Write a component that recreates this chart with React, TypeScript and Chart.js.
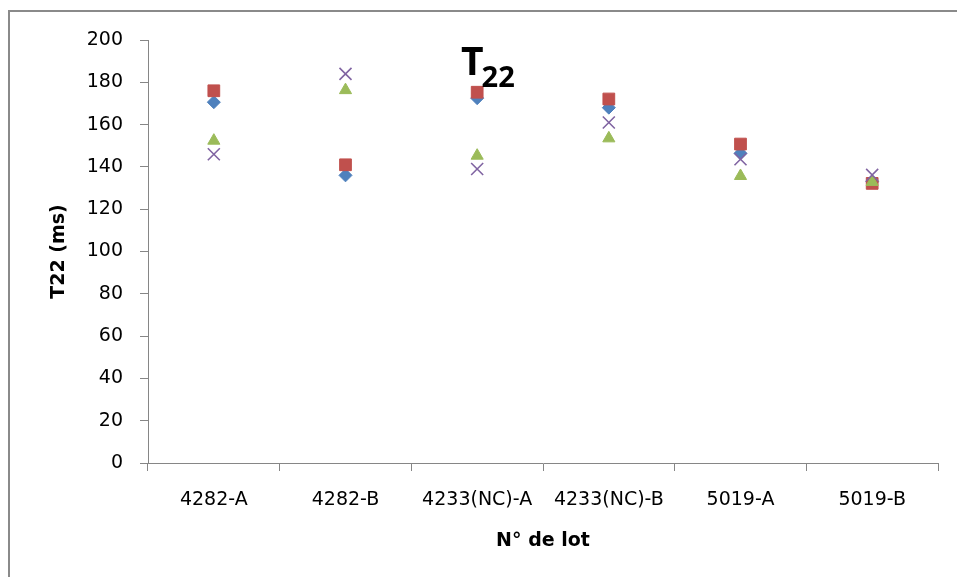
import React, { useEffect, useRef } from "react";
import { Chart, registerables } from "chart.js";

Chart.register(...registerables);

const categories = ["4282-A", "4282-B", "4233(NC)-A", "4233(NC)-B", "5019-A", "5019-B"];
const seriesBlue = [170.6, 136, 172.5, 168, 146.4, 133];
const seriesRed = [176, 141, 175.3, 172.1, 150.8, 132.2];
const seriesGreen = [152.4, 176.3, 145.3, 153.5, 135.7, 132.9];
const seriesPurple = [146, 184, 139, 161, 143.6, 136.2];
const yTicks = { min: 0, max: 200, step: 20 };
const titleMain = "T";
const titleSub = "22";
const yTitle = "T22 (ms)";
const xTitle = "N° de lot";

const AXIS = "#868686";
const FONT = "'DejaVu Sans', sans-serif";

const framePlugin = {
  id: "frame",
  beforeDraw(chart: any) {
    const ctx = chart.ctx;
    ctx.save();
    ctx.fillStyle = "#ffffff";
    ctx.fillRect(0, 0, chart.width, chart.height);
    ctx.fillStyle = "#8a8a8a";
    ctx.fillRect(8, 10, 2, chart.height - 10);
    ctx.fillRect(8, 10, chart.width - 8, 2);
    ctx.restore();
  },
  afterDraw(chart: any) {
    const ctx = chart.ctx;
    ctx.save();
    ctx.fillStyle = "#000000";
    ctx.textBaseline = "alphabetic";
    ctx.textAlign = "left";
    ctx.font = "bold 39px 'Open Sans', sans-serif";
    const x0 = 461;
    ctx.fillText(titleMain, x0, 75);
    const w = ctx.measureText(titleMain).width;
    ctx.font = "bold 29px 'Open Sans', sans-serif";
    ctx.fillText(titleSub, x0 + w - 2, 87);
    ctx.restore();
  },
};

export default function App() {
  const ref = useRef<HTMLCanvasElement | null>(null);
  useEffect(() => {
    document.body.style.margin = "0";
    const canvas = ref.current!;
    const mk = (label: string, data: number[], color: string, style: string, radius: number, order: number, bw: number) => ({
      label,
      data,
      showLine: false,
      pointStyle: style,
      pointRadius: radius,
      pointHoverRadius: radius,
      backgroundColor: color,
      borderColor: color,
      pointBorderWidth: bw,
      order,
    });
    const chart = new Chart(canvas, {
      type: "line",
      data: {
        labels: categories,
        datasets: [
          mk("S1", seriesBlue, "#4F81BD", "rectRot", 6.5, 4, 1),
          mk("S2", seriesRed, "#C0504D", "rect", 8.3, 3, 1),
          mk("S3", seriesGreen, "#9BBB59", "triangle", 7, 2, 1),
          mk("S4", seriesPurple, "#8064A2", "crossRot", 8.5, 1, 1.6),
        ] as any,
      },
      options: {
        animation: false,
        responsive: false,
        events: [],
        layout: { padding: { top: 40, right: 19, left: 0, bottom: 0 } },
        plugins: {
          legend: { display: false },
          tooltip: { enabled: false },
          title: { display: false },
        },
        scales: {
          x: {
            type: "category",
            offset: true,
            grid: { offset: true, drawOnChartArea: false, drawTicks: true, tickLength: 8, color: AXIS, lineWidth: 1 },
            border: { display: true, color: AXIS, width: 1 },
            ticks: { color: "#000", font: { family: FONT, size: 19 }, padding: 18, maxRotation: 0, autoSkip: false },
            title: { display: true, text: xTitle, color: "#000", font: { family: FONT, size: 19, weight: "bold" }, padding: { top: 0, bottom: 25 } },
            afterFit(scale: any) {
              scale.height = 114;
            },
          },
          y: {
            min: yTicks.min,
            max: yTicks.max,
            grid: { drawOnChartArea: false, drawTicks: true, tickLength: 8, color: AXIS, lineWidth: 1 },
            border: { display: true, color: AXIS, width: 1 },
            ticks: { stepSize: yTicks.step, color: "#000", font: { family: FONT, size: 19 }, padding: 17 },
            title: { display: true, text: yTitle, color: "#000", font: { family: FONT, size: 19, weight: "bold" }, padding: { top: 48, bottom: 0 } },
            afterFit(scale: any) {
              scale.width = 148;
            },
          },
        },
      },
      plugins: [framePlugin],
    });
    return () => chart.destroy();
  }, []);
  return <canvas ref={ref} width={957} height={577} style={{ display: "block" }} />;
}
